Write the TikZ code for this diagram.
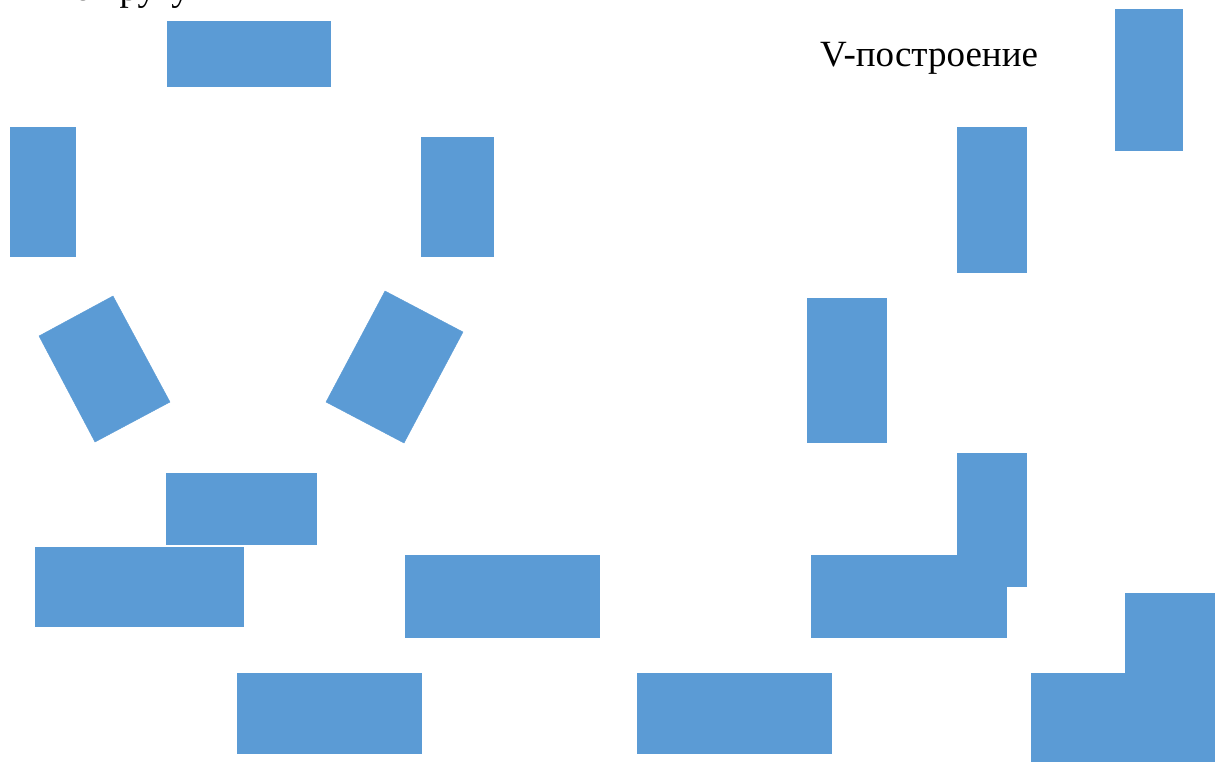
\documentclass[tikz,border=0pt]{standalone}
\usepackage{fontspec}
\setmainfont{Liberation Serif}
\definecolor{blockblue}{HTML}{5B9BD5}
\tikzset{
  block/.style={fill=blockblue, draw=blockblue, line width=0.4pt},
  caption/.style={font=\fontsize{37}{41}\selectfont, inner sep=0pt, text=black}
}
\begin{document}
\begin{tikzpicture}[x=1pt, y=-1pt]
\useasboundingbox (0,0) rectangle (1215,761);
\fill[white] (0,0) rectangle (1215,761);

% captions
\node[caption, anchor=base east] (circ) at (190,0) {по кругу};
\node[caption, anchor=base west] (vbuild) at (820,66) {V-построение};

% left group
\path[block] (167,21) rectangle (330,86);
\path[block] (10,127) rectangle (75,256);
\path[block] (421,137) rectangle (493,256);
\path[block] (39,336) -- (113,296) -- (170,402) -- (95,442) -- cycle;
\path[block] (385,291) -- (463,332) -- (404,443) -- (326,402) -- cycle;
\path[block] (166,473) rectangle (316,544);
\path[block] (35,547) rectangle (243,626);
\path[block] (405,555) rectangle (599,637);
\path[block] (237,673) rectangle (421,753);
\path[block] (637,673) rectangle (831,753);

% right group
\path[block] (1115,9) rectangle (1182,150);
\path[block] (957,127) rectangle (1026,272);
\path[block] (807,298) rectangle (886,442);
\path[block] (811,555) rectangle (1006,637);
\path[block] (957,453) rectangle (1026,586);
\path[block] (1125,593) rectangle (1214,700);
\path[block] (1031,673) rectangle (1215,761);
\end{tikzpicture}
\end{document}
